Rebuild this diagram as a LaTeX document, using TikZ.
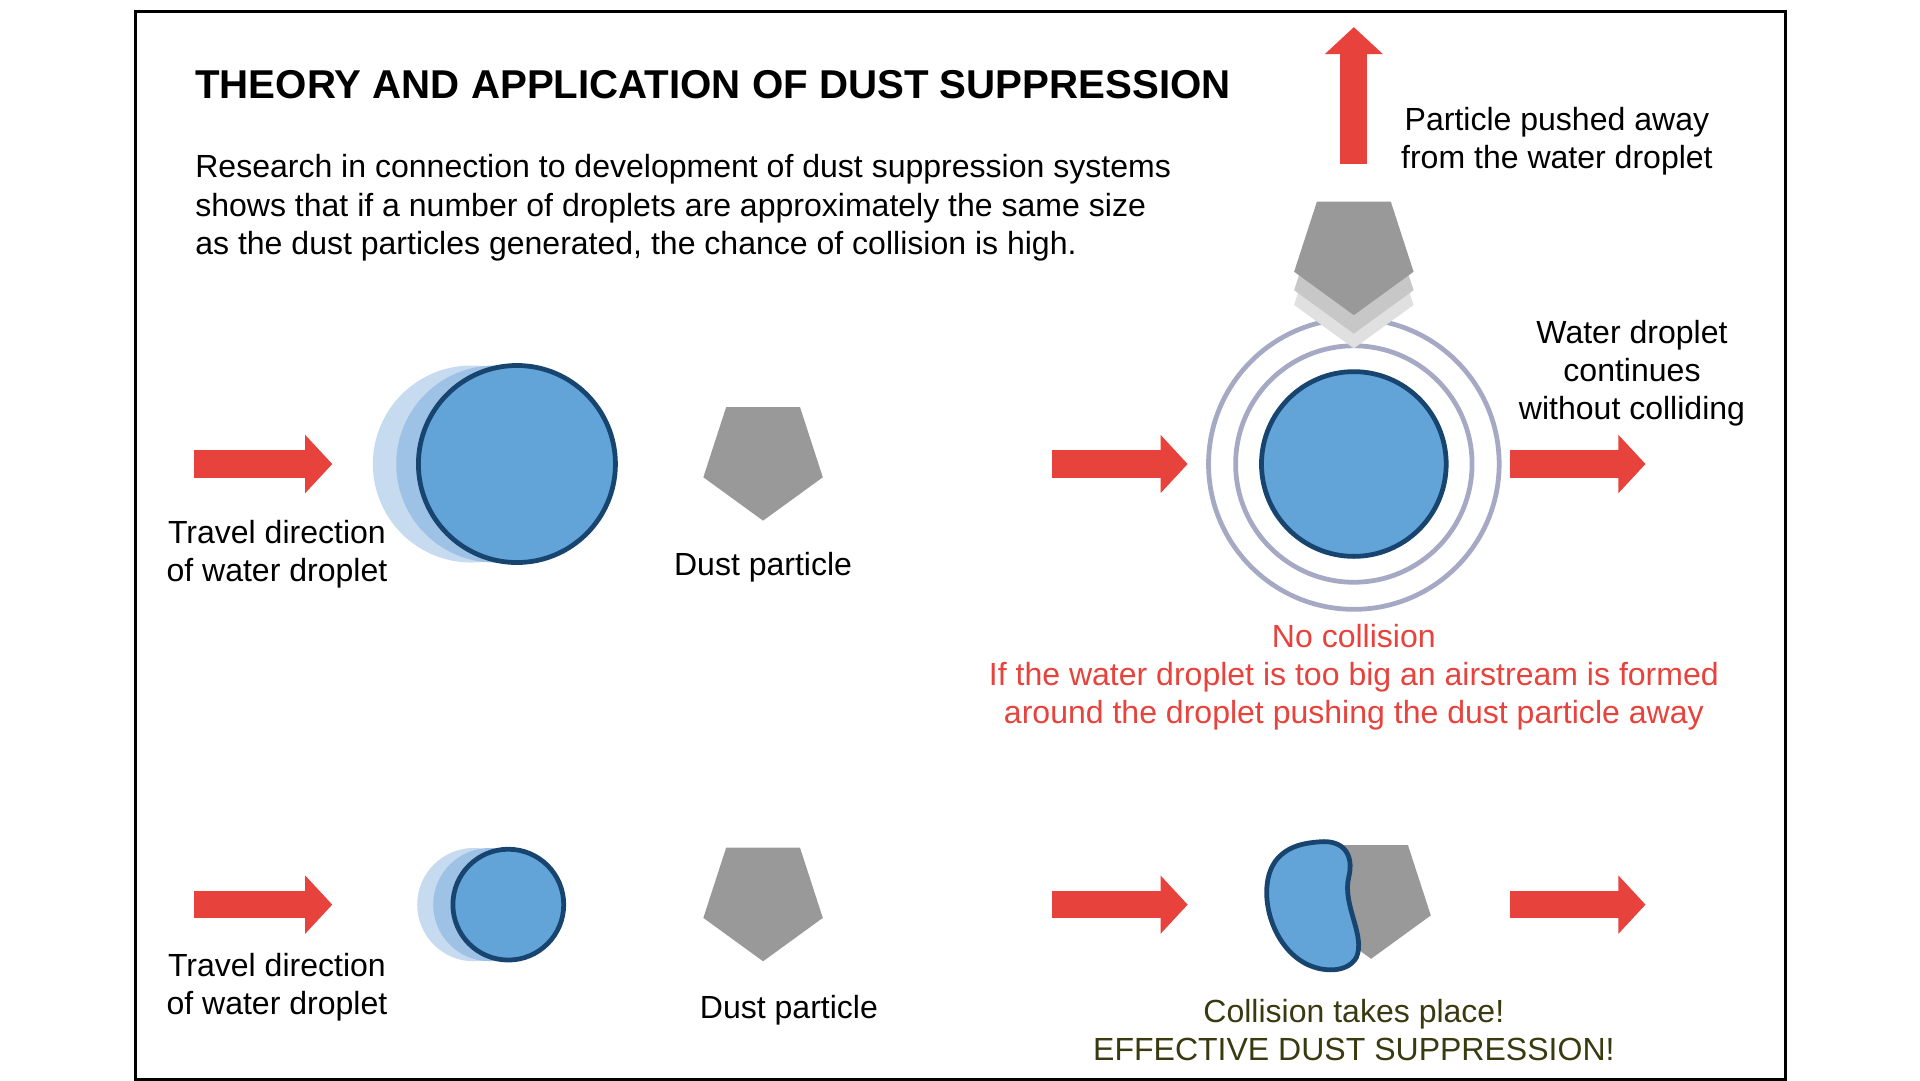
\documentclass[tikz,border=0pt]{standalone}
\usepackage{fontspec}
\setmainfont{Liberation Sans}
\usetikzlibrary{shapes.geometric,arrows.meta}
\definecolor{arrowred}{HTML}{E8423C}
\definecolor{dropblue}{HTML}{62A3D8}
\definecolor{dropedge}{HTML}{17456F}
\definecolor{ghostA}{HTML}{C6DAF0}
\definecolor{ghostB}{HTML}{9EC2E6}
\definecolor{dustgray}{HTML}{999999}
\definecolor{ringgray}{HTML}{A6A9C4}
\definecolor{olivetext}{HTML}{3A3A10}
\tikzset{
  push/.style={arrowred,line width=0.22cm,-{Triangle[length=0.22cm,width=0.46cm]}},
  drop/.style={circle,fill=dropblue,draw=dropedge,line width=1.1pt,inner sep=0pt},
  ghost/.style={circle,draw=none,inner sep=0pt},
  dust/.style={regular polygon,regular polygon sides=5,shape border rotate=180,fill=dustgray,minimum size=1.02cm,inner sep=0pt},
  lbl/.style={font=\fontsize{7.4}{8.8}\selectfont,align=center},
}
\begin{document}
\begin{tikzpicture}[x=0.01cm,y=-0.01cm]
\useasboundingbox (0,0) rectangle (1560,877.5);

\draw[line width=0.7pt] (110,9) rectangle (1451,877);

\node[anchor=base west,inner sep=0pt,font=\fontsize{9.3}{11}\selectfont\bfseries] (title) at (158,80) {THEORY AND APPLICATION OF DUST SUPPRESSION};
\node[anchor=north west,lbl,align=left,inner sep=0pt] (intro) at (158,125)
  {Research in connection to development of dust suppression systems\\
   shows that if a number of droplets are approximately the same size\\
   as the dust particles generated, the chance of collision is high.};

% first row, big droplet
\coordinate (a1s) at (158,377);
\coordinate (a1e) at (270,377);
\draw[push] (a1s) -- (a1e);
\node[ghost,fill=ghostA,minimum size=1.6cm] (big1) at (383,377) {};
\node[ghost,fill=ghostB,minimum size=1.6cm] (big2) at (402,377) {};
\node[drop,minimum size=1.6cm] (big) at (420,377) {};
\node[dust] (dust1) at (620,372) {};
\node[lbl] (travel1) at (225,450) {Travel direction\\of water droplet};
\node[lbl] (dustl1) at (620,461) {Dust particle};

\coordinate (a2s) at (855,377);
\coordinate (a2e) at (965,377);
\draw[push] (a2s) -- (a2e);
\node[circle,draw=ringgray,line width=1.1pt,minimum size=2.36cm] (ring2) at (1100,377) {};
\node[circle,draw=ringgray,line width=1.1pt,minimum size=1.92cm] (ring1) at (1100,377) {};
\node[drop,minimum size=1.5cm] (bigr) at (1100,377) {};
\node[dust,fill=dustgray!30] (push3) at (1100,232) {};
\node[dust,fill=dustgray!55] (push2) at (1100,220) {};
\node[dust] (push1) at (1100,205) {};
\coordinate (upS) at (1100,133);
\coordinate (upE) at (1100,22);
\draw[push] (upS) -- (upE);
\coordinate (a3s) at (1227,377);
\coordinate (a3e) at (1337,377);
\draw[push] (a3s) -- (a3e);
\node[lbl] (pushed) at (1265,115) {Particle pushed away\\from the water droplet};
\node[lbl] (cont) at (1326,303) {Water droplet\\continues\\without colliding};
\node[lbl,text=arrowred] (nocol) at (1100,550) {No collision\\If the water droplet is too big an airstream is formed\\around the droplet pushing the dust particle away};

% second row, small droplet
\coordinate (b1s) at (158,735);
\coordinate (b1e) at (270,735);
\draw[push] (b1s) -- (b1e);
\node[ghost,fill=ghostA,minimum size=0.92cm] (sm1) at (385,735) {};
\node[ghost,fill=ghostB,minimum size=0.92cm] (sm2) at (398,735) {};
\node[drop,minimum size=0.9cm] (small) at (413,735) {};
\node[dust] (dust2) at (620,730) {};
\node[lbl] (travel2) at (225,802) {Travel direction\\of water droplet};
\node[lbl] (dustl2) at (641,821) {Dust particle};

\coordinate (b2s) at (855,735);
\coordinate (b2e) at (965,735);
\draw[push] (b2s) -- (b2e);
\node[dust] (dust3) at (1114,728) {};
\draw[fill=dropblue,draw=dropedge,line width=1.1pt]
  (1072,684) .. controls (1092,682) and (1100,695) .. (1096,712)
  .. controls (1090,735) and (1110,760) .. (1102,778)
  .. controls (1094,792) and (1070,790) .. (1056,780)
  .. controls (1030,762) and (1022,720) .. (1036,700)
  .. controls (1045,688) and (1058,685) .. (1072,684) -- cycle;
\coordinate (b3s) at (1227,735);
\coordinate (b3e) at (1337,735);
\draw[push] (b3s) -- (b3e);
\node[lbl,text=olivetext] (hit) at (1100,837) {Collision takes place!\\EFFECTIVE DUST SUPPRESSION!};
\end{tikzpicture}
\end{document}
